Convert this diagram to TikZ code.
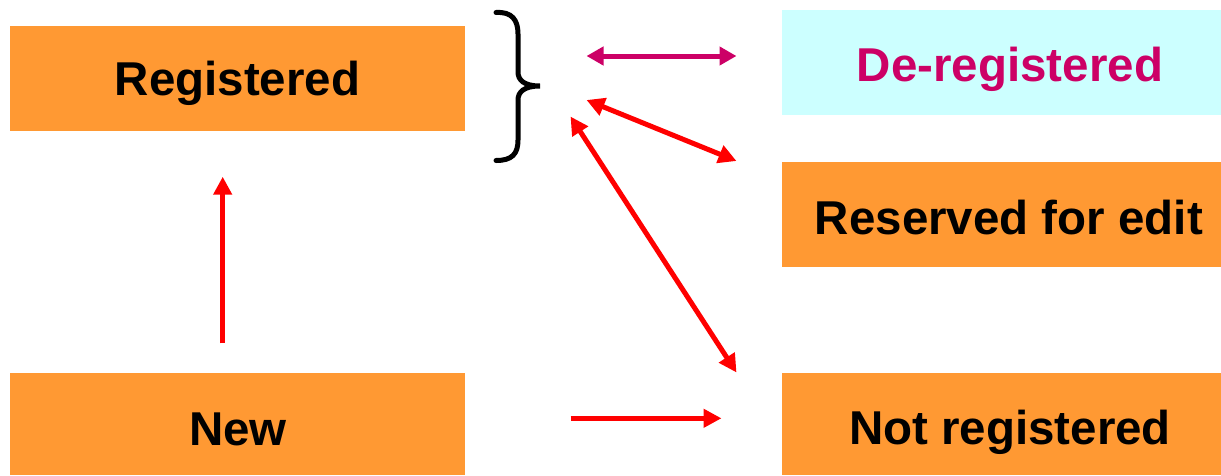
\documentclass[tikz,border=0pt]{standalone}
\usepackage{fontspec}
\setmainfont{Liberation Sans}
\usetikzlibrary{arrows.meta}
\definecolor{boxorange}{HTML}{FF9933}
\definecolor{boxcyan}{HTML}{CCFFFF}
\definecolor{darkmag}{HTML}{CC0066}
\definecolor{arrred}{HTML}{FF0000}
\tikzset{
  statebox/.style={rectangle, inner sep=0pt, minimum width=455pt, minimum height=105pt},
  rightbox/.style={rectangle, inner sep=0pt, minimum width=439pt, minimum height=105pt},
  lbl/.style={inner sep=0pt, anchor=base, font=\fontsize{47.5}{50}\selectfont\bfseries},
  conn/.style={line width=5pt, draw=arrred, -{Triangle[length=18pt,width=18pt]}},
  dconn/.style={line width=5pt, draw=arrred, {Triangle[length=18pt,width=18pt]}-{Triangle[length=18pt,width=18pt]}},
  braceline/.style={line width=5pt, line cap=round, draw=black}
}
\begin{document}
\begin{tikzpicture}[x=1pt,y=-1pt]
\useasboundingbox (0,0) rectangle (1221,475);
% boxes
\node[statebox, fill=boxorange] (reg) at (237.5,78.5) {};
\node[statebox, fill=boxorange, minimum height=102pt] (new) at (237.5,424) {};
\node[rightbox, fill=boxcyan] (dereg) at (1001.5,62.5) {};
\node[rightbox, fill=boxorange] (resv) at (1001.5,214.5) {};
\node[rightbox, fill=boxorange, minimum height=102pt] (notreg) at (1001.5,424) {};
% labels
\node[lbl] (regt) at (237.5,95) {Registered};
\node[lbl] (newt) at (238,445) {New};
\node[lbl, text=darkmag] (deregt) at (1010,81.7) {De-registered};
\node[lbl] (resvt) at (1009,234) {Reserved for edit};
\node[lbl] (notregt) at (1010,444) {Not registered};
% brace
\draw[braceline] (496,12.5) .. controls (512,11.5) and (518,20) .. (518,34) -- (518,72)
  .. controls (518,80) and (524,86) .. (540,86)
  .. controls (524,86) and (518,92) .. (518,100) -- (518,140)
  .. controls (518,154) and (512,160.5) .. (496,160.5);
% connector end points
\coordinate (m1) at (586.5,56);
\coordinate (m2) at (736.5,56);
\coordinate (a1) at (586.5,100);
\coordinate (a2) at (736.5,161);
\coordinate (b1) at (570.5,116.5);
\coordinate (b2) at (736.5,372.5);
\coordinate (h1) at (570.5,418.3);
\coordinate (h2) at (721.5,418.3);
\coordinate (u1) at (222.7,343.3);
\coordinate (u2) at (222.7,176.7);
% connectors
\draw[line width=5pt, draw=darkmag, {Triangle[length=17pt,width=18pt]}-{Triangle[length=17pt,width=18pt]}] (m1) -- (m2);
\draw[dconn] (a1) -- (a2);
\draw[dconn] (b1) -- (b2);
\draw[conn] (h1) -- (h2);
\draw[conn] (u1) -- (u2);
\end{tikzpicture}
\end{document}
